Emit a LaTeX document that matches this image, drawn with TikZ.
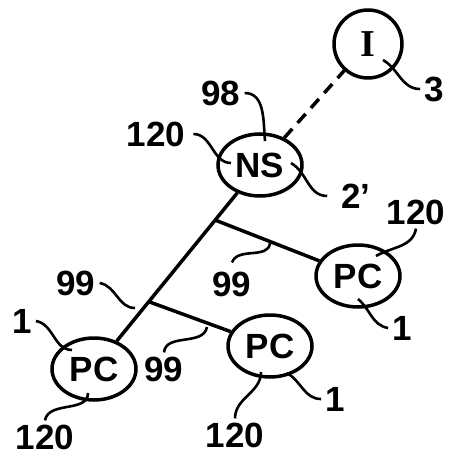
\documentclass[tikz,border=0pt]{standalone}
\usepackage{fontspec}
\setmainfont{Liberation Sans}
\newfontfamily\romanfont{Liberation Serif}
\usepackage{tikz}
\usetikzlibrary{shapes.geometric, calc, positioning}
\newcommand{\labfont}{\fontsize{35}{40}\selectfont\bfseries}

\begin{document}
\begin{tikzpicture}[
  x=1pt, y=-1pt,
  unit/.style={ellipse, draw, line width=3.5pt, minimum width=84pt, minimum height=62pt, inner sep=0pt, font=\labfont},
  lbl/.style={inner sep=4pt, font=\labfont},
  lead/.style={line width=2.6pt},
  link/.style={line width=3.5pt}
]
  \useasboundingbox (0,0) rectangle (452,465);

  \node[circle, draw, line width=3.5pt, minimum size=68pt, inner sep=0pt, font=\romanfont\bfseries\fontsize{38}{42}\selectfont] (i) at (368,44) {I};
  \node[unit] (ns) at (260,165) {NS};
  \node[unit] (pcr) at (358,276) {PC};
  \node[unit] (pcm) at (270,346) {PC};
  \node[unit] (pcl) at (94,369) {PC};

  \node[lbl] (l3) at (434,89) {3};
  \node[lbl] (l98) at (221,93) {98};
  \node[lbl] (l120ns) at (156,134) {120};
  \node[lbl] (l2) at (356,196) {2'};
  \node[lbl] (l120r) at (416,212) {120};
  \node[lbl] (l99r) at (232,284) {99};
  \node[lbl] (l1r) at (402,328) {1};
  \node[lbl] (l99l) at (76,283) {99};
  \node[lbl] (l1l) at (22,321) {1};
  \node[lbl] (l99m) at (164,369) {99};
  \node[lbl] (l120l) at (45,437) {120};
  \node[lbl] (l120m) at (235,435) {120};
  \node[lbl] (l1m) at (335,399) {1};

  \coordinate (j1) at ($(ns)!0.27!(pcl)$);
  \coordinate (j2) at ($(ns)!0.67!(pcl)$);
  \coordinate (c3) at (383,60);
  \coordinate (c98) at (265,141);
  \coordinate (c120ns) at (231,163);
  \coordinate (c2) at (291,163);
  \coordinate (c120r) at (376,256);
  \coordinate (c99r) at (270,243);
  \coordinate (c1r) at (358,299);
  \coordinate (c99l) at (135,308);
  \coordinate (c1l) at (72,350);
  \coordinate (c99m) at (207,327);
  \coordinate (c120l) at (88,393);
  \coordinate (c120m) at (261,372);
  \coordinate (c1m) at (287,373);

  \draw[link] (ns) -- (pcl);
  \draw[link] (j1) -- (pcr);
  \draw[link] (j2) -- (pcm);
  \draw[link, dash pattern=on 12pt off 8pt] (ns) -- (i);

  \draw[lead] (l3.west) to[out=180, in=-30] (c3);
  \draw[lead] (l98.east) to[out=0, in=95] (c98);
  \draw[lead] ([xshift=4pt]l120ns.east) to[out=0, in=180] (c120ns);
  \draw[lead] ([xshift=-10pt]l2.west) to[out=180, in=-30] (c2);
  \draw[lead] (l120r.south) to[out=-100, in=30] (c120r);
  \draw[lead] ([yshift=5pt]l99r.north) to[out=70, in=-95] (c99r);
  \draw[lead] (l1r.west) to[out=170, in=-40] (c1r);
  \draw[lead] (l99l.east) to[out=-10, in=180] (c99l);
  \draw[lead] (l1l.east) to[out=-10, in=180] (c1l);
  \draw[lead] (l99m.north) to[out=85, in=-100] (c99m);
  \draw[lead] (l120l.north) to[out=80, in=-90] (c120l);
  \draw[lead] (l120m.north) to[out=90, in=-90] (c120m);
  \draw[lead] (l1m.west) to[out=180, in=-30] (c1m);
\end{tikzpicture}
\end{document}
